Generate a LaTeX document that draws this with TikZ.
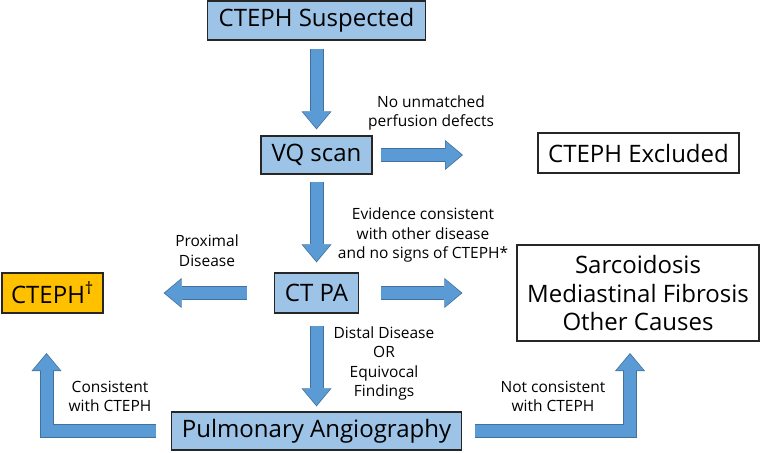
\documentclass[tikz,border=0pt]{standalone}
\usepackage{fontspec}
\setmainfont{Open Sans}
\usetikzlibrary{arrows.meta}
\definecolor{boxblue}{HTML}{9DC3E6}
\definecolor{arrowblue}{HTML}{5B9BD5}
\definecolor{arrowedge}{HTML}{41719C}
\definecolor{ctephorange}{HTML}{FFC000}
\begin{document}
\begin{tikzpicture}[x=1pt, y=-1pt,
    stepbox/.style={draw=black!85, line width=1.2pt, fill=boxblue, inner sep=0pt, font=\fontsize{24}{28.5}\selectfont},
    endbox/.style={stepbox, fill=white, align=center},
    note/.style={inner sep=0pt, align=center, font=\fontsize{15.5}{19.5}\selectfont},
    flow/.style={draw=arrowblue, line width=12pt, line join=miter, shorten >=1.3pt,
        -{Triangle[width=27pt, length=16pt, line width=0pt]},
        preaction={draw=arrowedge, line width=14pt, shorten >=0pt,
        -{Triangle[width=30pt, length=18pt, line width=0pt]}}}]
    \useasboundingbox (0,0) rectangle (762,452);
    \node[stepbox, minimum width=218pt, minimum height=39pt] (susp) at (316.5,20.5) {CTEPH Suspected};
    \node[stepbox, minimum width=111pt, minimum height=38pt] (vq) at (316.5,155) {VQ scan};
    \node[endbox, minimum width=201pt, minimum height=40pt] (excl) at (638.5,153) {CTEPH Excluded};
    \node[stepbox, minimum width=84pt, minimum height=40pt] (ctpa) at (316.5,293) {CT PA};
    \node[stepbox, fill=ctephorange, minimum width=101pt, minimum height=40pt] (cteph) at (52.5,293) {CTEPH\textsuperscript{\textdagger}};
    \node[endbox, minimum width=242pt, minimum height=96pt] (sarc) at (638,293) {Sarcoidosis\\Mediastinal Fibrosis\\Other Causes};
    \node[stepbox, minimum width=290pt, minimum height=38pt] (pulm) at (316.5,431) {Pulmonary Angiography};
    \coordinate (excltip) at (463,155);
    \coordinate (leftbend) at (46.5,431);
    \coordinate (lefttip) at (46.5,353);
    \coordinate (rightbend) at (630,431);
    \coordinate (righttip) at (630,353);
    \draw[flow] ([yshift=-8pt]susp.south) -- ([yshift=6pt]vq.north);
    \draw[flow] ([xshift=8pt]vq.east) -- (excltip);
    \draw[flow] ([yshift=-7pt]vq.south) -- ([yshift=10pt]ctpa.north);
    \draw[flow] ([xshift=-27pt]ctpa.west) -- ([xshift=60pt]cteph.east);
    \draw[flow] ([xshift=22pt]ctpa.east) -- ([xshift=-54pt]sarc.west);
    \draw[flow] ([yshift=-12pt]ctpa.south) -- ([yshift=5pt]pulm.north);
    \draw[flow] ([xshift=-15pt]pulm.west) -- (leftbend) -- (lefttip);
    \draw[flow] ([xshift=13pt]pulm.east) -- (rightbend) -- (righttip);
    \node[note] (nomatch) at (431,113) {No unmatched\\perfusion defects};
    \node[note] (other) at (423,235) {Evidence consistent\\with other disease\\and no signs of CTEPH*};
    \node[note] (proximal) at (207,250.5) {Proximal\\Disease};
    \node[note] (distal) at (384,363.5) {Distal Disease\\OR\\Equivocal\\Findings};
    \node[note] (consistent) at (110,396.5) {Consistent\\with CTEPH};
    \node[note] (notconsistent) at (553,396.5) {Not consistent\\with CTEPH};
\end{tikzpicture}
\end{document}
